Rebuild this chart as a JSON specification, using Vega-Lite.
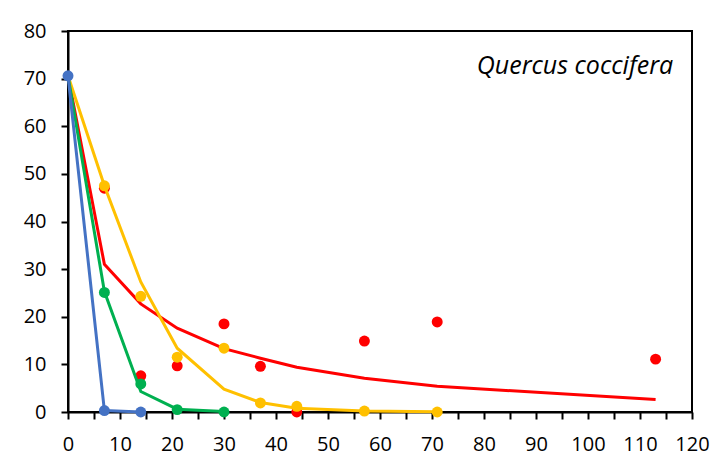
{
  "$schema": "https://vega.github.io/schema/vega-lite/v6.json",
  "width": 624,
  "height": 381,
  "autosize": "none",
  "padding": {"left": 68, "top": 31, "right": 32, "bottom": 53},
  "background": "white",
  "config": {
    "view": {"stroke": "black", "strokeWidth": 2},
    "font": "Open Sans",
    "axis": {
      "grid": false,
      "domainColor": "black",
      "domainWidth": 2,
      "tickColor": "black",
      "tickWidth": 2,
      "tickSize": 7,
      "labelFont": "Open Sans",
      "labelFontSize": 20,
      "labelColor": "black",
      "title": null
    }
  },
  "title": {
    "text": "Quercus coccifera",
    "anchor": "end",
    "orient": "top",
    "font": "Open Sans",
    "fontStyle": "italic",
    "fontWeight": "normal",
    "fontSize": 25,
    "color": "black",
    "baseline": "alphabetic",
    "offset": -78,
    "dx": -36
  },
  "data": {
    "values": [
      {"series": "red", "kind": "fit", "x": 0, "y": 70.6},
      {"series": "red", "kind": "fit", "x": 7, "y": 31.0},
      {"series": "red", "kind": "fit", "x": 14, "y": 22.7},
      {"series": "red", "kind": "fit", "x": 21, "y": 17.6},
      {"series": "red", "kind": "fit", "x": 30, "y": 13.3},
      {"series": "red", "kind": "fit", "x": 37, "y": 11.3},
      {"series": "red", "kind": "fit", "x": 44, "y": 9.4},
      {"series": "red", "kind": "fit", "x": 57, "y": 7.1},
      {"series": "red", "kind": "fit", "x": 71, "y": 5.4},
      {"series": "red", "kind": "fit", "x": 113, "y": 2.65},
      {"series": "red", "kind": "obs", "x": 7, "y": 47.0},
      {"series": "red", "kind": "obs", "x": 14, "y": 7.6},
      {"series": "red", "kind": "obs", "x": 21, "y": 9.7},
      {"series": "red", "kind": "obs", "x": 30, "y": 18.5},
      {"series": "red", "kind": "obs", "x": 37, "y": 9.6},
      {"series": "red", "kind": "obs", "x": 44, "y": 0},
      {"series": "red", "kind": "obs", "x": 57, "y": 14.9},
      {"series": "red", "kind": "obs", "x": 71, "y": 18.9},
      {"series": "red", "kind": "obs", "x": 113, "y": 11.1},
      {"series": "yellow", "kind": "fit", "x": 0, "y": 70.6},
      {"series": "yellow", "kind": "fit", "x": 7, "y": 47.5},
      {"series": "yellow", "kind": "fit", "x": 14, "y": 27.3},
      {"series": "yellow", "kind": "fit", "x": 21, "y": 13.4},
      {"series": "yellow", "kind": "fit", "x": 30, "y": 4.8},
      {"series": "yellow", "kind": "fit", "x": 37, "y": 2.0},
      {"series": "yellow", "kind": "fit", "x": 44, "y": 0.8},
      {"series": "yellow", "kind": "fit", "x": 57, "y": 0.2},
      {"series": "yellow", "kind": "fit", "x": 71, "y": 0.05},
      {"series": "yellow", "kind": "obs", "x": 7, "y": 47.5},
      {"series": "yellow", "kind": "obs", "x": 14, "y": 24.3},
      {"series": "yellow", "kind": "obs", "x": 21, "y": 11.5},
      {"series": "yellow", "kind": "obs", "x": 30, "y": 13.4},
      {"series": "yellow", "kind": "obs", "x": 37, "y": 1.9},
      {"series": "yellow", "kind": "obs", "x": 44, "y": 1.2},
      {"series": "yellow", "kind": "obs", "x": 57, "y": 0.2},
      {"series": "yellow", "kind": "obs", "x": 71, "y": 0},
      {"series": "green", "kind": "fit", "x": 0, "y": 70.6},
      {"series": "green", "kind": "fit", "x": 7, "y": 25.3},
      {"series": "green", "kind": "fit", "x": 14, "y": 4.3},
      {"series": "green", "kind": "fit", "x": 21, "y": 0.6},
      {"series": "green", "kind": "fit", "x": 30, "y": 0.1},
      {"series": "green", "kind": "obs", "x": 7, "y": 25.1},
      {"series": "green", "kind": "obs", "x": 14, "y": 5.9},
      {"series": "green", "kind": "obs", "x": 21, "y": 0.5},
      {"series": "green", "kind": "obs", "x": 30, "y": 0},
      {"series": "blue", "kind": "fit", "x": 0, "y": 70.6},
      {"series": "blue", "kind": "fit", "x": 7, "y": 0.3},
      {"series": "blue", "kind": "fit", "x": 14, "y": 0},
      {"series": "blue", "kind": "obs", "x": 0, "y": 70.6},
      {"series": "blue", "kind": "obs", "x": 7, "y": 0.3},
      {"series": "blue", "kind": "obs", "x": 14, "y": 0}
    ]
  },
  "encoding": {
    "x": {
      "field": "x",
      "type": "quantitative",
      "scale": {"domain": [0, 120], "nice": false, "zero": false},
      "axis": {
        "values": [0, 5, 10, 15, 20, 25, 30, 35, 40, 45, 50, 55, 60, 65, 70, 75, 80, 85, 90, 95, 100, 105, 110, 115, 120],
        "labelExpr": "datum.value % 10 == 0 ? datum.label : ''",
        "labelPadding": 15,
        "labelFontSize": 20,
        "labelFlush": false,
        "labelOverlap": false
      }
    },
    "y": {
      "field": "y",
      "type": "quantitative",
      "scale": {"domain": [0, 80], "nice": false},
      "axis": {"values": [0, 10, 20, 30, 40, 50, 60, 70, 80], "labelPadding": 15, "labelFontSize": 20}
    },
    "color": {
      "field": "series",
      "type": "nominal",
      "scale": {"domain": ["red", "yellow", "green", "blue"], "range": ["#FF0000", "#FFC000", "#00B050", "#4472C4"]},
      "legend": null
    }
  },
  "layer": [
    {"transform": [{"filter": "datum.series == 'red' && datum.kind == 'fit'"}], "mark": {"type": "line", "strokeWidth": 3}},
    {"transform": [{"filter": "datum.series == 'red' && datum.kind == 'obs'"}], "mark": {"type": "circle", "size": 120, "opacity": 1}},
    {"transform": [{"filter": "datum.series == 'yellow' && datum.kind == 'fit'"}], "mark": {"type": "line", "strokeWidth": 3}},
    {"transform": [{"filter": "datum.series == 'yellow' && datum.kind == 'obs'"}], "mark": {"type": "circle", "size": 120, "opacity": 1}},
    {"transform": [{"filter": "datum.series == 'green' && datum.kind == 'fit'"}], "mark": {"type": "line", "strokeWidth": 3}},
    {"transform": [{"filter": "datum.series == 'green' && datum.kind == 'obs'"}], "mark": {"type": "circle", "size": 120, "opacity": 1}},
    {"transform": [{"filter": "datum.series == 'blue' && datum.kind == 'fit'"}], "mark": {"type": "line", "strokeWidth": 3}},
    {"transform": [{"filter": "datum.series == 'blue' && datum.kind == 'obs'"}], "mark": {"type": "circle", "size": 120, "opacity": 1}}
  ]
}
